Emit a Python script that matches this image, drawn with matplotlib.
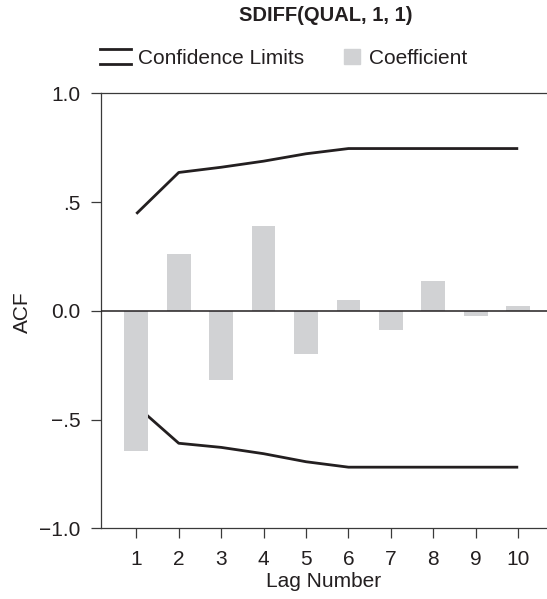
import matplotlib.pyplot as plt
from matplotlib.lines import Line2D
from matplotlib.patches import Rectangle

plt.rcParams['font.family'] = ['Liberation Sans', 'DejaVu Sans']

# autocorrelation of the seasonally differenced series
lags = [1, 2, 3, 4, 5, 6, 7, 8, 9, 10]
acf = [-0.643, 0.26, -0.32, 0.389, -0.20, 0.049, -0.087, 0.136, -0.023, 0.022]
upper_limit = [0.446, 0.636, 0.66, 0.688, 0.722, 0.746, 0.746, 0.746, 0.746, 0.746]
lower_limit = [-0.437, -0.609, -0.628, -0.657, -0.694, -0.719, -0.719, -0.719, -0.719, -0.719]
y_ticks = [-1.0, -0.5, 0.0, 0.5, 1.0]
y_tick_labels = ["\u22121.0", "\u2212.5", "0.0", ".5", "1.0"]

bar_color = "#d1d2d4"
line_color = "#231f20"
axis_color = "#3a3a3a"
text_color = "#231f20"
fs = 15

W, H = 547, 599
fig = plt.figure(figsize=(W / 100, H / 100), dpi=100)
ax = fig.add_axes([100.7 / W, 1 - 528.3 / H, 1 - 100.7 / W, (528.3 - 93.3) / H])

ax.plot(lags, upper_limit, color=line_color, lw=2.0, zorder=2, solid_capstyle="butt")
ax.plot(lags, lower_limit, color=line_color, lw=2.0, zorder=2, solid_capstyle="butt")
ax.bar(lags, acf, width=0.56, color=bar_color, zorder=3)
ax.axhline(0, color=line_color, lw=1.1, zorder=4)

ax.set_xlim(0.161, 10.678)
ax.set_ylim(-1.0, 1.0)
ax.set_xticks(lags)
ax.set_yticks(y_ticks)
ax.set_yticklabels(y_tick_labels)

for side in ["left", "bottom", "top"]:
    ax.spines[side].set_color(axis_color)
    ax.spines[side].set_linewidth(0.9)
ax.spines["right"].set_visible(False)
ax.tick_params(axis="both", direction="out", length=7.5, width=0.9,
               color=axis_color, labelsize=fs, labelcolor=text_color)
ax.tick_params(axis="y", pad=7)
ax.tick_params(axis="x", pad=8)

ax.set_xlabel("Lag Number", fontsize=fs, color=text_color, labelpad=2)
ax.set_ylabel("ACF", fontsize=fs, color=text_color)
ax.yaxis.set_label_coords(-0.155, 0.497)

fig.text(326 / W, 1 - 20.7 / H, "SDIFF(QUAL, 1, 1)", ha="center", va="baseline",
         fontsize=14.5, fontweight="bold", color=text_color)

# legend: paired lines for the limits, grey swatch for the coefficients
leg_mid = 1 - 56.5 / H
leg_base = 1 - 64.3 / H
for dy in (-8, 8):
    fig.add_artist(Line2D([100 / W, 131 / W], [leg_mid + dy / H, leg_mid + dy / H],
                          color=line_color, lw=2.0, transform=fig.transFigure))
fig.text(138 / W, leg_base, "Confidence Limits", ha="left", va="baseline",
         fontsize=fs, color=text_color)
fig.add_artist(Rectangle((344 / W, 1 - 64 / H), 16 / W, 15 / H,
                         color=bar_color, transform=fig.transFigure))
fig.text(369 / W, leg_base, "Coefficient", ha="left", va="baseline",
         fontsize=fs, color=text_color)

fig.savefig("out.png", dpi=100)
